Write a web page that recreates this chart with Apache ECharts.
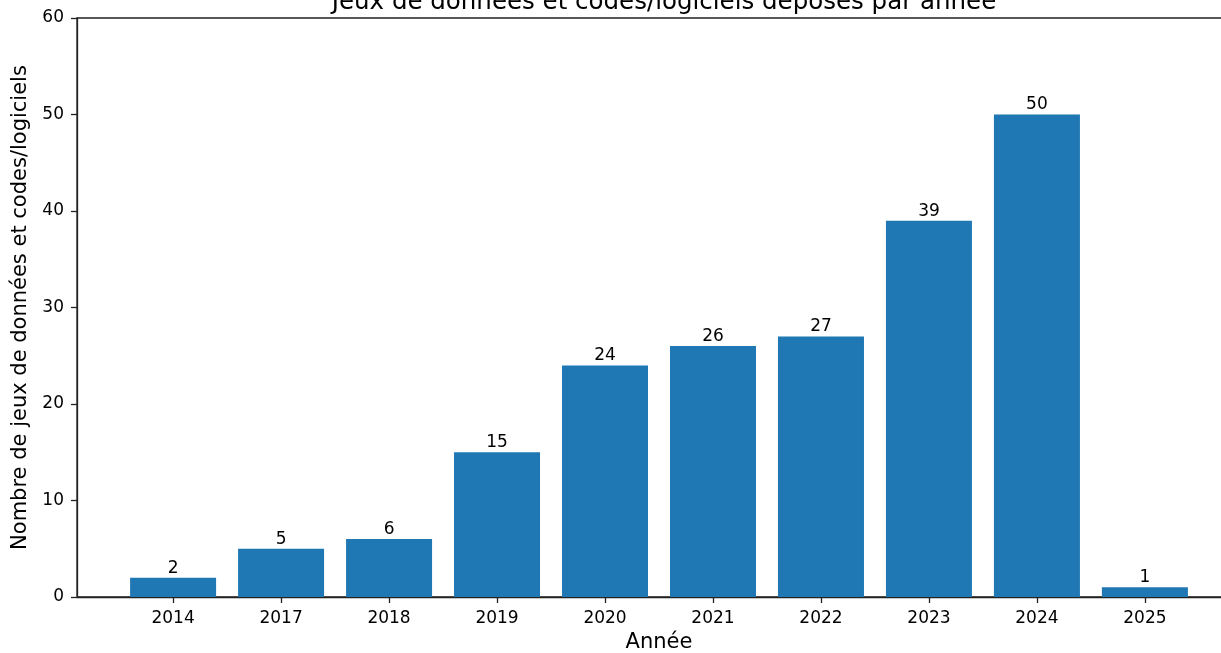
<!DOCTYPE html>
<html>
<head>
<meta charset="utf-8">
<script src="https://cdn.jsdelivr.net/npm/echarts@6/dist/echarts.min.js"></script>
<style>
  html, body { margin: 0; padding: 0; background: #fff; }
  #chart { width: 1221px; height: 653px; }
</style>
</head>
<body>
<div id="chart"></div>
<script>
// Deposits per year
const years = ['2014', '2017', '2018', '2019', '2020', '2021', '2022', '2023', '2024', '2025'];
const counts = [2, 5, 6, 15, 24, 26, 27, 39, 50, 1];
const yTicks = [0, 10, 20, 30, 40, 50, 60];

const positions = years.map((_, i) => i);
const font = 'DejaVu Sans';
const ink = '#222';

const chart = echarts.init(document.getElementById('chart'), null, { renderer: 'canvas' });
chart.setOption({
  animation: false,
  backgroundColor: '#fff',
  title: {
    text: 'Jeux de données et codes/logiciels déposés par année',
    left: 659,
    top: -15,
    textAlign: 'center',
    textStyle: { fontFamily: font, fontSize: 24.5, fontWeight: 'normal', color: '#000' }
  },
  grid: {
    left: 77, top: 18, width: 1164, height: 579,
    outerBoundsMode: 'none',
    containLabel: false,
    show: true, borderColor: ink, borderWidth: 1.3, backgroundColor: 'transparent'
  },
  xAxis: {
    type: 'value',
    min: -0.89,
    max: 9.89,
    name: 'Année',
    nameLocation: 'middle',
    nameGap: 35,
    nameTextStyle: { fontFamily: font, fontSize: 21, color: '#000' },
    splitLine: { show: false },
    axisLine: { show: true, onZero: false, lineStyle: { color: ink, width: 1.3 } },
    axisTick: { show: true, length: 6, customValues: positions, lineStyle: { color: ink, width: 1.3 } },
    axisLabel: {
      customValues: positions,
      formatter: v => years[Math.round(v)],
      fontFamily: font, fontSize: 17, color: '#000', margin: 13
    }
  },
  yAxis: {
    type: 'value',
    min: yTicks[0],
    max: yTicks[yTicks.length - 1],
    interval: 10,
    name: 'Nombre de jeux de données et codes/logiciels',
    nameLocation: 'middle',
    nameGap: 35,
    nameTextStyle: { fontFamily: font, fontSize: 21, color: '#000' },
    splitLine: { show: false },
    axisLine: { show: true, onZero: false, lineStyle: { color: ink, width: 1.3 } },
    axisTick: { show: true, length: 6, lineStyle: { color: ink, width: 1.3 } },
    axisLabel: { fontFamily: font, fontSize: 17, color: '#000', margin: 13 }
  },
  series: [{
    type: 'bar',
    data: counts.map((c, i) => [positions[i], c]),
    barWidth: 86,
    itemStyle: { color: '#1f77b4' },
    label: {
      show: true,
      position: 'top',
      distance: 1,
      formatter: p => p.value[1],
      fontFamily: font, fontSize: 17, color: '#000'
    }
  }]
});
</script>
</body>
</html>
